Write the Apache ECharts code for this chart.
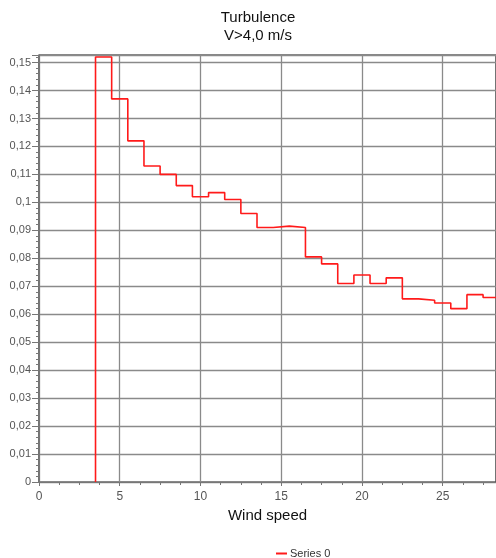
<!DOCTYPE html>
<html>
<head>
<meta charset="utf-8">
<script src="https://cdn.jsdelivr.net/npm/echarts@6/dist/echarts.min.js"></script>
<style>
html,body{margin:0;padding:0;background:#fff;}
#chart{width:496px;height:558px;}
</style>
</head>
<body>
<div id="chart"></div>
<script>
// Wind speed bin centers (m/s)
var windSpeedBins = [4, 5, 6, 7, 8, 9, 10, 11, 12, 13, 14, 15, 16, 17, 18, 19, 20, 21, 22, 23, 24, 25, 26, 27, 28];
// Turbulence intensity per bin
var turbulence = [0.152, 0.137, 0.122, 0.113, 0.110, 0.106, 0.102, 0.1035, 0.101, 0.096, 0.091, 0.0915, 0.091,
                  0.0805, 0.078, 0.071, 0.074, 0.071, 0.073, 0.0655, 0.065, 0.064, 0.062, 0.067, 0.066];
var binWidth = 1;
var seriesName = 'Series 0';
var titleLines = ['Turbulence', 'V>4,0 m/s'];
var xAxisName = 'Wind speed';

// Build step points from bin edges
var pts = [[windSpeedBins[0] - binWidth / 2, 0]];
for (var i = 0; i < windSpeedBins.length; i++) {
  pts.push([windSpeedBins[i] - binWidth / 2, turbulence[i]]);
}
pts.push([windSpeedBins[windSpeedBins.length - 1] + binWidth / 2, turbulence[turbulence.length - 1]]);

var font = 'Liberation Sans, Arial, sans-serif';
var chart = echarts.init(document.getElementById('chart'), null, {renderer: 'canvas'});
chart.setOption({
  animation: false,
  backgroundColor: '#fff',
  title: {
    text: titleLines.join('\n'),
    left: 253, top: 4, textAlign: 'center',
    textStyle: {fontFamily: font, fontSize: 15, fontWeight: 'normal', color: '#111', lineHeight: 18}
  },
  legend: {
    data: [{name: seriesName, icon: 'rect'}],
    left: 271, top: 543,
    itemWidth: 11, itemHeight: 2, itemGap: 5,
    textStyle: {fontFamily: font, fontSize: 11, color: '#333', padding: [0, 0, 0, -2]}
  },
  grid: {left: 39, right: 0, top: 55, bottom: 76, show: true, borderColor: '#111', borderWidth: 1.2, containLabel: false},
  xAxis: {
    type: 'value', min: 0, max: 28.3, interval: 5,
    name: xAxisName, nameLocation: 'middle', nameGap: 25,
    nameTextStyle: {fontFamily: font, fontSize: 15, color: '#111'},
    axisLine: {show: true, lineStyle: {color: '#777', width: 1}},
    axisTick: {show: true, length: 4, lineStyle: {color: '#777'}},
    minorTick: {show: true, splitNumber: 4, length: 3, lineStyle: {color: '#777'}},
    axisLabel: {fontFamily: font, fontSize: 12, color: '#555', margin: 9, showMaxLabel: false,
      formatter: function (v) { return (Math.abs(v - Math.round(v)) < 1e-6) ? String(Math.round(v)) : ''; }},
    splitLine: {show: true, lineStyle: {color: '#8a8a8a', width: 1.3}}
  },
  yAxis: {
    type: 'value', min: 0, max: 0.1527, interval: 0.01,
    axisLine: {show: true, lineStyle: {color: '#777', width: 1}},
    axisTick: {show: true, length: 7, lineStyle: {color: '#777'}},
    minorTick: {show: true, splitNumber: 5, length: 3, lineStyle: {color: '#777'}},
    axisLabel: {fontFamily: font, fontSize: 11, color: '#555', margin: 8, showMaxLabel: false,
      formatter: function (v) {
        var r = Math.round(v * 100) / 100;
        if (Math.abs(v - r) > 1e-6) return '';
        return String(r).replace('.', ',');
      }},
    splitLine: {show: true, lineStyle: {color: '#8a8a8a', width: 1.3}}
  },
  series: [{
    name: seriesName, type: 'line', step: 'end', data: pts,
    showSymbol: false, symbol: 'none',
    lineStyle: {color: '#ff1a1a', width: 1.6},
    itemStyle: {color: '#ff1a1a'},
    clip: true
  }]
});
</script>
</body>
</html>
